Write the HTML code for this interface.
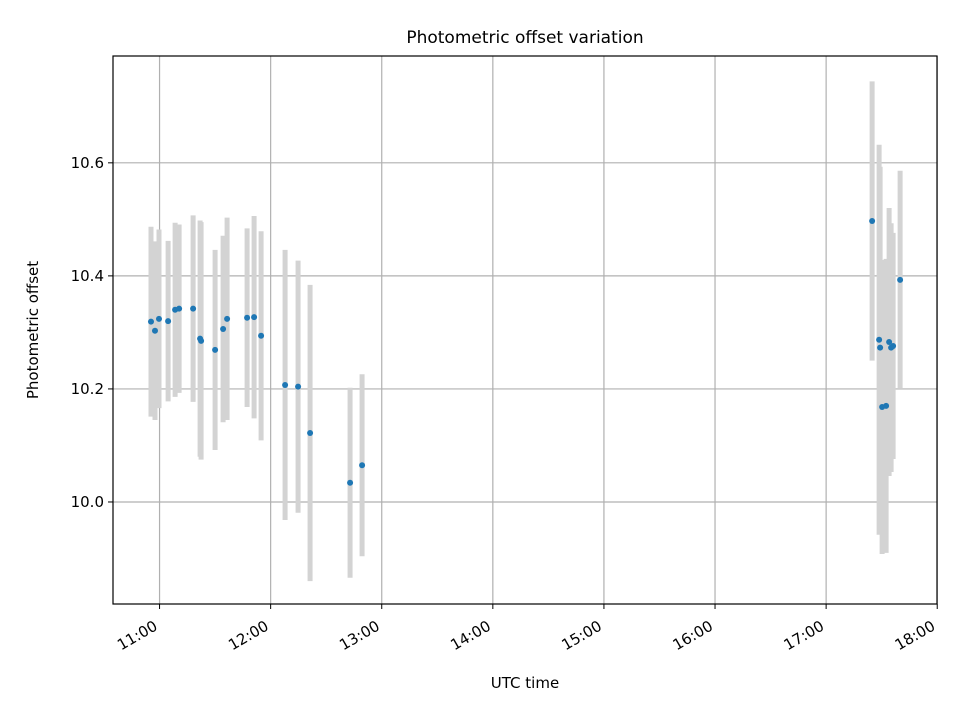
<!DOCTYPE html>
<html><head><meta charset="utf-8"><style>
body{margin:0;background:#fff;}
svg text{font-family:"DejaVu Sans","Liberation Sans",sans-serif;fill:#000;}
</style></head><body>
<svg id="chart" width="960" height="720" viewBox="0 0 960 720">
<rect x="0" y="0" width="960" height="720" fill="#fff"/>
<g id="grid"></g>
<g id="bars"></g>
<g id="points"></g>
<rect x="113" y="56" width="824" height="548" fill="none" stroke="#000" stroke-width="1.2"/>
<g id="axes"></g>
<text x="525" y="43" text-anchor="middle" font-size="17">Photometric offset variation</text>
<text x="525" y="688" text-anchor="middle" font-size="15">UTC time</text>
<text transform="translate(38,330) rotate(-90)" text-anchor="middle" font-size="15">Photometric offset</text>
</svg>
<script>
const times = [10.923,10.959,10.995,11.077,11.140,11.176,11.302,11.365,11.374,11.500,11.572,11.608,11.788,11.851,11.914,12.130,12.247,12.355,12.715,12.823,17.414,17.477,17.486,17.504,17.540,17.567,17.585,17.603,17.666];
const offsets = [10.319,10.303,10.324,10.320,10.340,10.342,10.342,10.289,10.285,10.269,10.306,10.324,10.326,10.327,10.294,10.207,10.204,10.122,10.034,10.065,10.497,10.287,10.273,10.168,10.170,10.283,10.273,10.276,10.393];
const errors = [0.168,0.158,0.158,0.142,0.154,0.149,0.165,0.209,0.210,0.177,0.165,0.179,0.158,0.179,0.185,0.239,0.223,0.262,0.168,0.161,0.247,0.345,0.320,0.260,0.260,0.237,0.220,0.200,0.193];
const xTicks = [11,12,13,14,15,16,17,18];
const xTickLabels = ["11:00","12:00","13:00","14:00","15:00","16:00","17:00","18:00"];
const yTicks = [10.0,10.2,10.4,10.6];
const yTickLabels = ["10.0","10.2","10.4","10.6"];

const X0=113,X1=937,Y0=604,Y1=56;
const xmin=10.581,xmax=17.998,ymin=9.8195,ymax=10.789;
const sx=v=>X0+(v-xmin)/(xmax-xmin)*(X1-X0);
const sy=v=>Y0-(v-ymin)/(ymax-ymin)*(Y0-Y1);
const NS="http://www.w3.org/2000/svg";
function mk(tag,attrs,parent){const e=document.createElementNS(NS,tag);for(const k in attrs)e.setAttribute(k,attrs[k]);document.getElementById(parent).appendChild(e);return e;}

xTicks.forEach((t,i)=>{
  const x=sx(t);
  const g=mk('line',{x1:x,x2:x,y1:Y1,y2:Y0,stroke:'#b0b0b0','stroke-width':1.2},'grid');
  
  
  const tk=mk('line',{x1:x,x2:x,y1:Y0,y2:Y0+5,stroke:'#000','stroke-width':1},'axes');
  
  
  const tx=mk('text',{x:0,y:0,'text-anchor':'end','font-size':15,transform:`translate(${x-1},${Y0+25}) rotate(-30)`},'axes');
  tx.textContent=xTickLabels[i];
  
  
});
yTicks.forEach((v,i)=>{
  const y=sy(v);
  const g=mk('line',{x1:X0,x2:X1,y1:y,y2:y,stroke:'#b0b0b0','stroke-width':1.2},'grid');
  
  
  const tk=mk('line',{x1:X0-5,x2:X0,y1:y,y2:y,stroke:'#000','stroke-width':1},'axes');
  
  
  const tx=mk('text',{x:X0-9,y:y+5,'text-anchor':'end','font-size':15},'axes');
  tx.textContent=yTickLabels[i];
  
  
});
times.forEach((t,i)=>{
  const x=sx(t);
  const b=mk('line',{x1:x,x2:x,y1:sy(offsets[i]+errors[i]),y2:sy(offsets[i]-errors[i]),stroke:'#d3d3d3','stroke-width':5},'bars');
  
  
  const p=mk('circle',{cx:x,cy:sy(offsets[i]),r:3,fill:'#1f77b4'},'points');
  
  
});
</script>
</body></html>
